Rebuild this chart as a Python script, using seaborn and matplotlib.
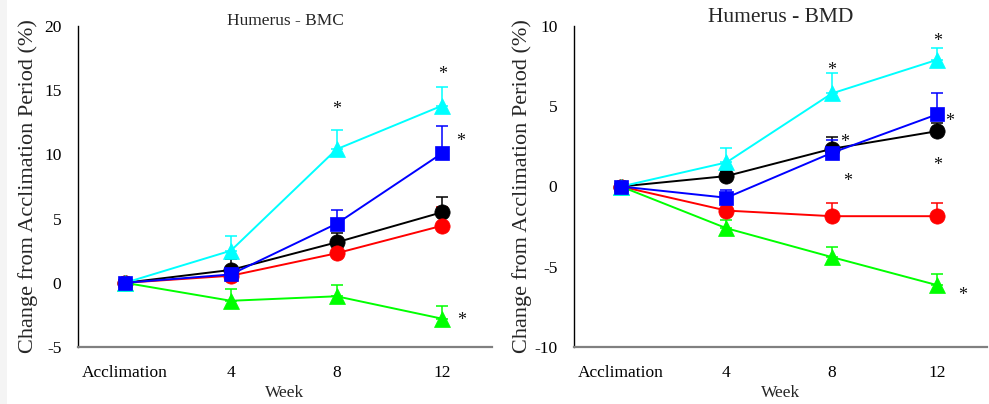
import numpy as np
import pandas as pd
import matplotlib
matplotlib.use("Agg")
import matplotlib.pyplot as plt
from matplotlib.patches import Rectangle
import seaborn as sns

# ---------------- data ----------------
weeks = ["Acclimation", "4", "8", "12"]

# Humerus - BMC (% change)
bmc_black = [0, 1.0, 3.15, 5.5]
bmc_black_err = [0, 0.85, 0.7, 1.2]
bmc_red = [0, 0.55, 2.3, 4.45]
bmc_red_err = [0, 0.6, 1.0, 1.45]
bmc_green = [0, -1.4, -1.05, -2.8]
bmc_green_err = [0, 0.9, 0.85, 1.0]
bmc_cyan = [0, 2.5, 10.4, 13.8]
bmc_cyan_err = [0, 1.15, 1.5, 1.45]
bmc_blue = [0, 0.65, 4.6, 10.1]
bmc_blue_err = [0, 0.5, 1.1, 2.15]
bmc_star_x = [2.0, 3.0, 3.17, 3.18]
bmc_star_y = [13.8, 16.5, 11.3, -2.65]

# Humerus - BMD (% change)
bmd_black = [0, 0.65, 2.35, 3.45]
bmd_black_err = [0, 0.3, 0.75, 0.5]
bmd_red = [0, -1.5, -1.85, -1.85]
bmd_red_err = [0, 0.4, 0.8, 0.82]
bmd_green = [0, -2.6, -4.4, -6.15]
bmd_green_err = [0, 0.5, 0.6, 0.7]
bmd_cyan = [0, 1.5, 5.8, 7.9]
bmd_cyan_err = [0, 0.88, 1.29, 0.7]
bmd_blue = [0, -0.7, 2.1, 4.5]
bmd_blue_err = [0, 0.48, 0.8, 1.35]
bmd_star_x = [2.0, 3.0, 3.12, 2.12, 2.15, 3.0, 3.24]
bmd_star_y = [7.45, 9.3, 4.3, 3.0, 0.55, 1.55, -6.55]

series_styles = [  # colour, marker, size
    ("#000000", "o", 11),
    ("#FF0000", "o", 11),
    ("#00FF00", "^", 11.5),
    ("#00FFFF", "^", 11.5),
    ("#0000FF", "s", 9.5),
]

# ---------------- style ----------------
sns.set_theme(style="white")
plt.rcParams["font.family"] = ["Liberation Serif", "DejaVu Serif"]
plt.rcParams["mathtext.fontset"] = "stix"

fig = plt.figure(figsize=(9.89, 4.04), dpi=100)
fig.patch.set_facecolor("white")
fig.patches.append(Rectangle((0, 0), 7 / 989, 1, transform=fig.transFigure,
                             facecolor="#f4f4f4", edgecolor="none", zorder=0))

W, H = 989, 404
ax1 = fig.add_axes([78 / W, 1 - 347 / H, (492 - 78) / W, (347 - 26) / H])
ax2 = fig.add_axes([574 / W, 1 - 347 / H, (987 - 574) / W, (347 - 26) / H])

x = np.arange(len(weeks))


def draw(ax, groups, stars_x, stars_y, ylim, yticks, title, title_size, title_y, ylab_x):
    for (vals, errs), (col, mk, ms) in zip(groups, series_styles):
        df = pd.DataFrame({"x": x, "y": vals})
        ax.errorbar(x, vals, yerr=[np.zeros(len(errs)), errs], fmt="none",
                    ecolor=col, elinewidth=1.1, capsize=4, capthick=1.1, zorder=1.5)
        sns.lineplot(data=df, x="x", y="y", ax=ax, color=col, marker=mk,
                     markersize=ms, markeredgecolor=col, markeredgewidth=0.5,
                     linewidth=1.4, zorder=2)
    for sx, sy in zip(stars_x, stars_y):
        ax.annotate("*", xy=(sx, sy), xytext=(0, -6), textcoords="offset points",
                    ha="center", va="baseline", fontsize=13, color="#111111")
    ax.set_xlim(-0.445, 3.47)
    ax.set_ylim(*ylim)
    ax.set_yticks(yticks)
    ax.set_yticklabels([str(t) for t in yticks])
    ax.set_xticks(x)
    ax.set_xticklabels(weeks)
    for s in ["top", "right"]:
        ax.spines[s].set_visible(False)
    ax.spines["left"].set_color("black")
    ax.spines["left"].set_linewidth(1.0)
    ax.spines["bottom"].set_color("#808080")
    ax.spines["bottom"].set_linewidth(1.6)
    ax.tick_params(axis="x", direction="out", length=4, width=1.2, color="#808080",
                   pad=9, labelsize=12.5, labelcolor="black")
    ax.tick_params(axis="y", direction="out", length=5, width=1.0, color="#808080",
                   pad=7, labelsize=12.5, labelcolor="black")
    ax.set_xlabel("Week", fontsize=12.5, labelpad=3)
    ax.set_ylabel("Change from Acclimation Period (%)", fontsize=16)
    ax.yaxis.set_label_coords(ylab_x, 0.5)
    ax.text(0.5, title_y, title, transform=ax.transAxes, ha="center", va="center",
            fontsize=title_size)
    ax.set_facecolor("white")


draw(ax1,
     [(bmc_black, bmc_black_err), (bmc_red, bmc_red_err), (bmc_green, bmc_green_err),
      (bmc_cyan, bmc_cyan_err), (bmc_blue, bmc_blue_err)],
     bmc_star_x, bmc_star_y, (-5, 20), [-5, 0, 5, 10, 15, 20],
     "Humerus - BMC", 12.5, 1.016, -0.097)
draw(ax2,
     [(bmd_black, bmd_black_err), (bmd_red, bmd_red_err), (bmd_green, bmd_green_err),
      (bmd_cyan, bmd_cyan_err), (bmd_blue, bmd_blue_err)],
     bmd_star_x, bmd_star_y, (-10, 10), [-10, -5, 0, 5, 10],
     "Humerus - BMD", 15.5, 1.026, -0.102)

fig.savefig("out.png", dpi=100, facecolor=fig.get_facecolor())
